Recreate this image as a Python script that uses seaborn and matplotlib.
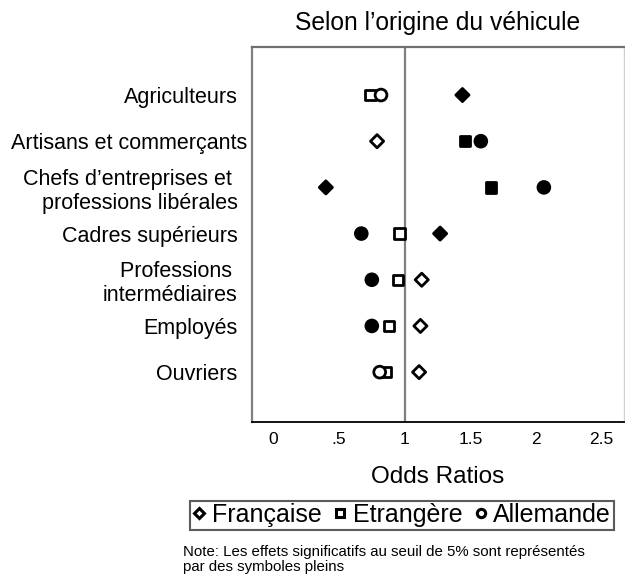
import matplotlib
matplotlib.use("Agg")
import matplotlib.pyplot as plt
from matplotlib.lines import Line2D
import matplotlib.transforms as mtransforms
import seaborn as sns
import pandas as pd

categories = [
    "Agriculteurs",
    "Artisans et commerçants",
    "Chefs d\u2019entreprises et \nprofessions libérales",
    "Cadres supérieurs",
    "Professions \nintermédiaires",
    "Employés",
    "Ouvriers",
]
series = ["Française", "Etrangère", "Allemande"]
francaise = [1.44, 0.79, 0.40, 1.27, 1.13, 1.12, 1.11]
etrangere = [0.74, 1.46, 1.66, 0.96, 0.95, 0.88, 0.86]
allemande = [0.82, 1.58, 2.06, 0.67, 0.75, 0.75, 0.81]
sig_francaise = [True, False, True, True, False, False, False]
sig_etrangere = [False, True, True, False, False, False, False]
sig_allemande = [False, True, True, True, True, True, False]

rows = []
for i, cat in enumerate(categories):
    for s, vals, sig in zip(series, [francaise, etrangere, allemande],
                            [sig_francaise, sig_etrangere, sig_allemande]):
        rows.append({"cat": cat, "serie": s, "odds": vals[i],
                     "sig": "plein" if sig[i] else "vide"})
df = pd.DataFrame(rows)

sns.set_theme(style="white")
plt.rcParams["font.family"] = ["Liberation Sans", "DejaVu Sans"]
plt.rcParams["text.color"] = "black"
plt.rcParams["axes.labelcolor"] = "black"
plt.rcParams["xtick.labelcolor"] = "black"
plt.rcParams["ytick.labelcolor"] = "black"

fig = plt.figure(figsize=(6.25, 5.77), dpi=100)
ax = fig.add_axes([251.5 / 625, 1 - 422 / 577, (624 - 251.5) / 625, (422 - 47) / 577])

markers = {"Française": "D", "Etrangère": "s", "Allemande": "o"}
sizes = {"Française": 45, "Etrangère": 55, "Allemande": 72}
for s in series:
    sub = df[df["serie"] == s]
    sns.scatterplot(data=sub, x="odds", y="cat", hue="sig",
                    palette={"plein": "black", "vide": "white"},
                    marker=markers[s], s=sizes[s], edgecolor="black",
                    linewidth=2, legend=False, ax=ax, zorder=3)

ax.axvline(1, color="#808080", lw=1.6, zorder=1)
ax.set_xlim(-0.166, 2.67)
ax.set_ylim(7.08, -1.04)
ax.set_xticks([0, 0.5, 1, 1.5, 2, 2.5])
ax.set_xticklabels(["0", ".5", "1", "1.5", "2", "2.5"], fontsize=12.5)
ax.tick_params(axis="x", direction="in", length=3, width=2, color="black", pad=7)
ax.tick_params(axis="y", length=0, pad=10, labelsize=15.5)
for lab in ax.get_yticklabels():
    lab.set_multialignment("right")
    if lab.get_text().startswith("Artisans"):
        lab.set_transform(lab.get_transform() +
                          mtransforms.ScaledTranslation(10 / 100, 0, fig.dpi_scale_trans))
ax.set_ylabel("")
ax.set_xlabel("Odds Ratios", fontsize=17.5, labelpad=14)
ax.set_title("Selon l\u2019origine du véhicule", fontsize=17.7, pad=12)

ax.spines["left"].set_color("#808080")
ax.spines["left"].set_linewidth(1.6)
ax.spines["top"].set_color("#707070")
ax.spines["top"].set_linewidth(1.6)
ax.spines["right"].set_color("#d0d0d0")
ax.spines["right"].set_linewidth(1.0)
ax.spines["bottom"].set_color("black")
ax.spines["bottom"].set_linewidth(1.3)

handles = [Line2D([], [], ls="none", marker=markers[s], mfc="white", mec="black",
                  mew=2.2, ms=6 if s != "Française" else 5.5) for s in series]
leg = fig.legend(handles, series, loc="center", bbox_to_anchor=(402 / 625, 1 - 515 / 577),
                 ncol=3, fontsize=18, frameon=True, fancybox=False,
                 handlelength=0.5, handletextpad=0.25, columnspacing=0.5,
                 borderpad=0.1, borderaxespad=0)
leg.get_frame().set_edgecolor("#333333")
leg.get_frame().set_linewidth(1.5)

fig.text(183 / 625, 1 - 545 / 577,
         "Note: Les effets significatifs au seuil de 5% sont représentés\npar des symboles pleins",
         fontsize=10.8, va="top", ha="left", linespacing=1.1)

fig.savefig("out.png", dpi=100)
